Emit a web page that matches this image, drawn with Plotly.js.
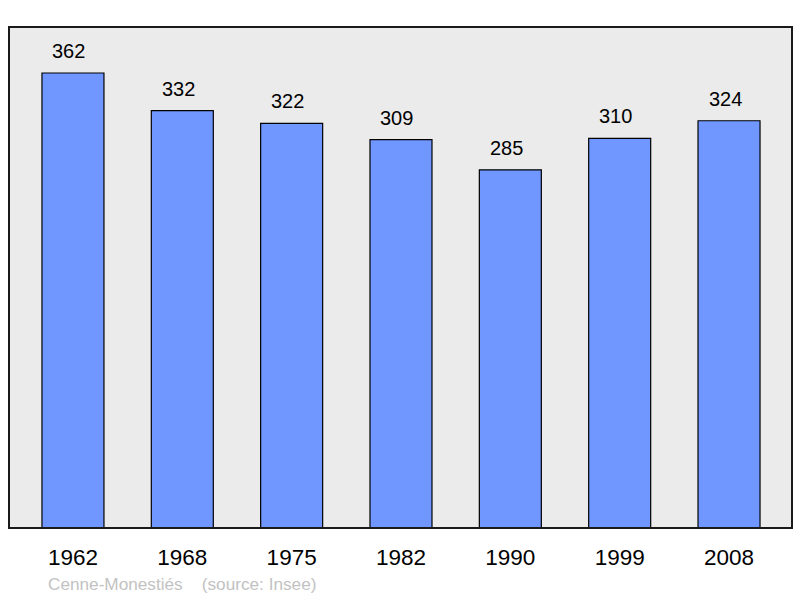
<!DOCTYPE html>
<html>
<head>
<meta charset="utf-8">
<script src="https://cdn.plot.ly/plotly-3.0.1.min.js"></script>
<style>html,body{margin:0;padding:0;background:#fff;}#chart{width:800px;height:598px;}</style>
</head>
<body>
<div id="chart"></div>
<script>
const years = ["1962", "1968", "1975", "1982", "1990", "1999", "2008"];
const population = [362, 332, 322, 309, 285, 310, 324];
const footerText = "Cenne-Monestiés    (source: Insee)";

const trace = {
  type: "bar",
  x: years,
  y: population,
  width: 0.567,
  marker: {color: "#7097ff", line: {color: "#000", width: 1.2}},
  hoverinfo: "skip"
};

const annotations = years.map((yr, i) => ({
  x: i, y: population[i], xref: "x", yref: "y",
  text: String(population[i]), showarrow: false,
  xanchor: "center", yanchor: "middle", yshift: 22, xshift: -4,
  font: {family: "Liberation Sans, Arial, sans-serif", size: 20, color: "#000"}
}));
annotations.push({
  x: (46 - 9) / 783, y: (528 - 584) / 501, xref: "paper", yref: "paper",
  xanchor: "left", yanchor: "middle", showarrow: false,
  text: footerText.replace(/ /g, "&nbsp;"),
  font: {family: "Liberation Sans, Arial, sans-serif", size: 17.2, color: "#c2c2c2"}
});

const layout = {
  width: 800, height: 598,
  margin: {l: 9, r: 8, t: 27, b: 70, pad: 0},
  paper_bgcolor: "#ffffff",
  plot_bgcolor: "#ebebeb",
  showlegend: false,
  xaxis: {
    type: "category", range: [-0.585, 6.576],
    showgrid: false, zeroline: false, showline: false,
    ticks: "outside", ticklen: 9, tickcolor: "rgba(0,0,0,0)",
    tickfont: {family: "Liberation Sans, Arial, sans-serif", size: 22.5, color: "#000"},
    fixedrange: true
  },
  yaxis: {
    range: [0, 398.6], showgrid: false, zeroline: false, showline: false,
    showticklabels: false, ticks: "", fixedrange: true
  },
  annotations: annotations,
  shapes: [{
    type: "rect", xref: "paper", yref: "paper", x0: 0, x1: 1, y0: 0, y1: 1,
    line: {color: "#1a1a1a", width: 2}, fillcolor: "rgba(0,0,0,0)", layer: "above"
  }]
};

Plotly.newPlot("chart", [trace], layout, {displayModeBar: false, staticPlot: true});
</script>
</body>
</html>
